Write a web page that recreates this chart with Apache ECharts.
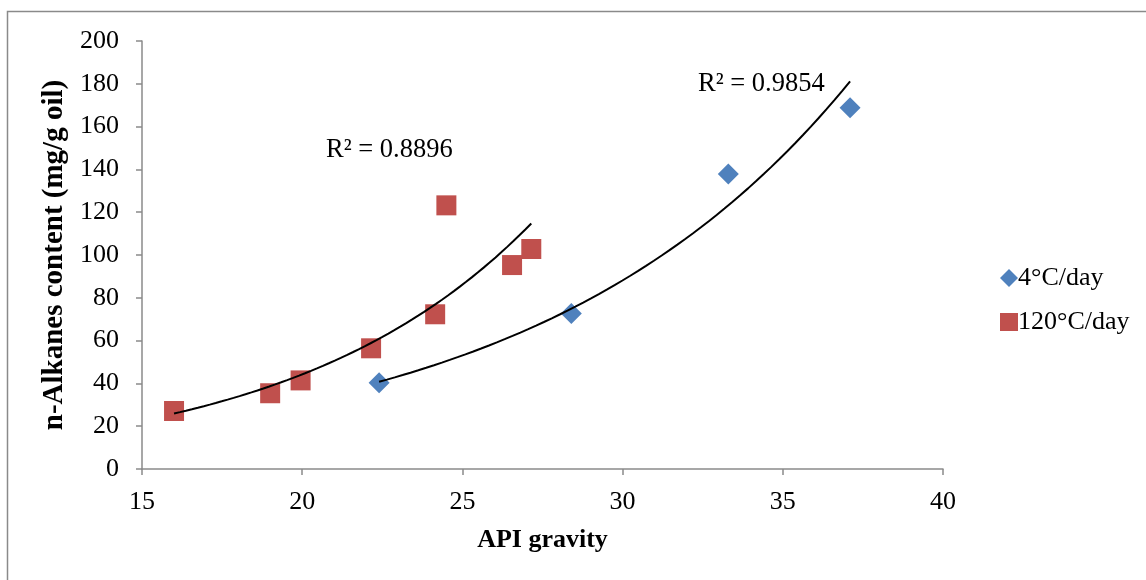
<!DOCTYPE html>
<html>
<head>
<meta charset="utf-8">
<script src="https://cdn.jsdelivr.net/npm/echarts@6/dist/echarts.min.js"></script>
<style>html,body{margin:0;padding:0;background:#fff}#c{width:1146px;height:580px}</style>
</head>
<body>
<div id="c"></div>
<script>
// Data
const seriesNames = ['4°C/day', '120°C/day'];
const api4 = [22.4, 28.4, 33.3, 37.1];
const alk4 = [40.3, 72.7, 137.8, 168.8];
const api120 = [16.0, 19.0, 19.95, 22.15, 24.15, 24.5, 26.55, 27.15];
const alk120 = [27.1, 35.4, 41.4, 56.4, 72.3, 123.2, 95.3, 102.8];
const r2Labels = ['R² = 0.9854', 'R² = 0.8896'];
const xTicks = [15, 20, 25, 30, 35, 40];
const yTicks = [0, 20, 40, 60, 80, 100, 120, 140, 160, 180, 200];

// Exponential least-squares trendline (as Excel does), computed from the data
function expFit(xs, ys) {
  const n = xs.length;
  let sx = 0, sy = 0, sxx = 0, sxy = 0;
  for (let i = 0; i < n; i++) {
    const ly = Math.log(ys[i]);
    sx += xs[i]; sy += ly; sxx += xs[i] * xs[i]; sxy += xs[i] * ly;
  }
  const b = (n * sxy - sx * sy) / (n * sxx - sx * sx);
  const a = Math.exp((sy - b * sx) / n);
  const lo = Math.min(...xs), hi = Math.max(...xs);
  const pts = [];
  const steps = 60;
  for (let k = 0; k <= steps; k++) {
    const x = lo + (hi - lo) * k / steps;
    pts.push([x, a * Math.exp(b * x)]);
  }
  return pts;
}
const trend4 = expFit(api4, alk4);
const trend120 = expFit(api120, alk120);

const font = 'Liberation Serif, Times New Roman, serif';
const chart = echarts.init(document.getElementById('c'));
chart.setOption({
  backgroundColor: '#fff',
  animation: false,
  textStyle: { fontFamily: font },
  graphic: [{
    type: 'rect', shape: { x: 7.5, y: 11.5, width: 1160, height: 600 },
    style: { fill: 'none', stroke: '#8a8a8a', lineWidth: 1.5 }, silent: true, z: -1
  }, {
    type: 'text', left: 698, top: 71,
    style: { text: r2Labels[0], font: '26.5px ' + font, fill: '#000' }
  }, {
    type: 'text', left: 326, top: 137,
    style: { text: r2Labels[1], font: '26.5px ' + font, fill: '#000' }
  }],
  grid: { left: 142, right: 203, top: 41, bottom: 111 },
  legend: {
    orient: 'vertical', left: 995, top: 260, itemGap: 18, itemWidth: 18, itemHeight: 18,
    textStyle: { fontFamily: font, fontSize: 26, color: '#000', padding: [0, 0, 0, -5] },
    data: [{ name: seriesNames[0], icon: 'diamond' }, { name: seriesNames[1], icon: 'rect' }]
  },
  xAxis: {
    type: 'value', min: 15, max: 40, interval: 5,
    name: 'API gravity', nameLocation: 'middle', nameGap: 58,
    nameTextStyle: { fontFamily: font, fontSize: 26, fontWeight: 'bold', color: '#000' },
    axisLine: { show: true, lineStyle: { color: '#8a8a8a', width: 1.5 } },
    axisTick: { show: true, length: 6, lineStyle: { color: '#8a8a8a', width: 1.5 } },
    axisLabel: { fontFamily: font, fontSize: 26, color: '#000', margin: 20 },
    splitLine: { show: false }
  },
  yAxis: {
    type: 'value', min: 0, max: 200, interval: 20,
    name: 'n-Alkanes content (mg/g oil)', nameLocation: 'middle', nameGap: 64, nameRotate: 90,
    nameTextStyle: { fontFamily: font, fontSize: 29, fontWeight: 'bold', color: '#000' },
    axisLine: { show: true, lineStyle: { color: '#8a8a8a', width: 1.5 } },
    axisTick: { show: true, length: 6, lineStyle: { color: '#8a8a8a', width: 1.5 } },
    axisLabel: { fontFamily: font, fontSize: 26, color: '#000', margin: 23 },
    splitLine: { show: false }
  },
  series: [
    { type: 'line', data: trend4, showSymbol: false, smooth: false, lineStyle: { color: '#000', width: 2 }, z: 3, silent: true },
    { type: 'line', data: trend120, showSymbol: false, smooth: false, lineStyle: { color: '#000', width: 2 }, z: 3, silent: true },
    { name: seriesNames[0], type: 'scatter', symbol: 'diamond', symbolSize: 21,
      itemStyle: { color: '#4F81BD', opacity: 1 }, data: api4.map((x, i) => [x, alk4[i]]), z: 2 },
    { name: seriesNames[1], type: 'scatter', symbol: 'rect', symbolSize: 20,
      itemStyle: { color: '#C0504D', opacity: 1 }, data: api120.map((x, i) => [x, alk120[i]]), z: 2 }
  ]
});
</script>
</body>
</html>
